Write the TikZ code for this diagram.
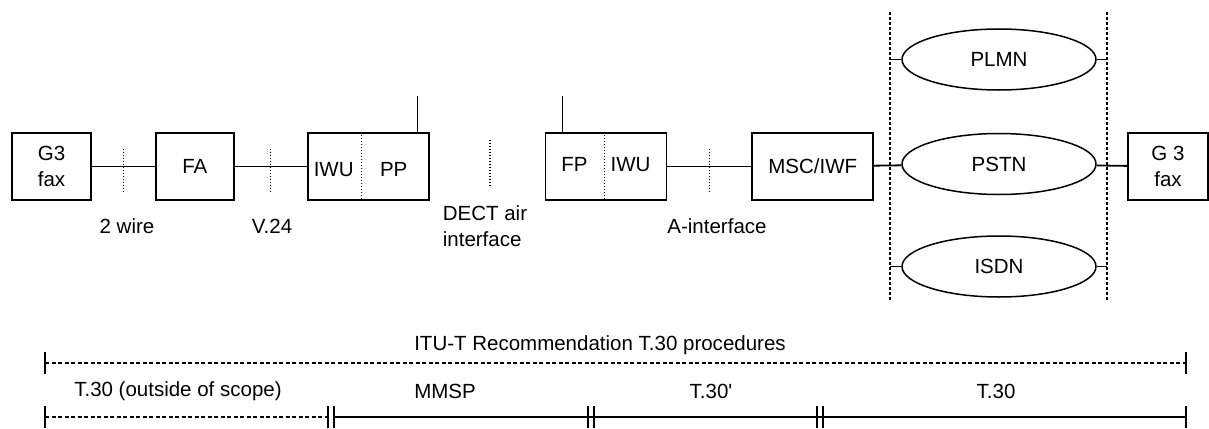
\documentclass[tikz,border=0pt]{standalone}
\usepackage{fontspec}
\setmainfont{Liberation Sans}
\usetikzlibrary{positioning,calc,shapes.geometric}

\begin{document}
\begin{tikzpicture}[x=1pt,y=-1pt,every node/.style={font=\fontsize{20.5}{26}\selectfont}]
    \tikzset{box/.style={draw,line width=1.8pt,minimum height=67pt,inner sep=0pt,align=center},
      net/.style={ellipse,draw,line width=1.5pt,minimum width=194pt,minimum height=61pt,inner sep=0pt},
      wire/.style={line width=1.8pt},
      sepline/.style={line width=1.3pt,dash pattern=on 1.3pt off 1.7pt},
      bound/.style={line width=1.3pt,dash pattern=on 3pt off 2pt},
      span/.style={line width=1.2pt,dash pattern=on 4pt off 2.5pt}}
    \useasboundingbox (0,0) rectangle (1209,428);
    % terminal side
    \node[box,minimum width=79pt] (fax1) at (51.5,166.5) {G3\\fax};
    \node[box,minimum width=78pt,right=63pt of fax1] (fa) {FA};
    \node[box,minimum width=121pt,right=72pt of fa] (pp) {};
    \node[box,minimum width=121pt,right=115pt of pp] (fp) {};
    \node[box,minimum width=121pt,right=84pt of fp] (msc) {MSC/IWF};
    \node at ($(pp.west)+(27,3)$) (ppiwu) {IWU};
    \node at ($(pp.west)+(87,3)$) (pptxt) {PP};
    \node at ($(fp.west)+(30,-2)$) (fptxt) {FP};
    \node at ($(fp.west)+(86,-2)$) (fpiwu) {IWU};
    \draw[sepline] ($(pp.north west)+(55,0)$) -- ($(pp.south west)+(55,0)$);
    \draw[sepline] ($(fp.north west)+(60,0)$) -- ($(fp.south west)+(60,0)$);
    \draw[wire] ($(pp.north east)+(-12,0)$) -- ++(0,-36);
    \draw[wire] ($(fp.north west)+(18,0)$) -- ++(0,-36);
    % networks
    \node[net] (pstn) at (999,164) {PSTN};
    \node[net,above=42pt of pstn] (plmn) {PLMN};
    \node[net,below=40pt of pstn] (isdn) {ISDN};
    \node[box,minimum width=80pt] (fax2) at (1168,166.5) {G 3\\fax};
    \coordinate (lt) at (890,12);
    \coordinate (lb) at (890,300);
    \coordinate (rt) at (1107,12);
    \coordinate (rb) at (1107,300);
    \draw[bound] (lt) -- (lb);
    \draw[bound] (rt) -- (rb);
    \foreach \a/\b in {fax1/fa,fa/pp,fp/msc,msc/pstn,pstn/fax2}{\draw[wire] (\a) -- (\b);}
    \foreach \n in {plmn,isdn}{\draw[wire] (\n.west) -- (\n.west -| lt); \draw[wire] (\n.east) -- (\n.east -| rt);}
    \foreach \a/\b in {fax1/fa,fa/pp,fp/msc}{\draw[sepline] ($(\a.east)!0.5!(\b.west)+(0,-18)$) -- ++(0,44);}
    \draw[sepline] ($(pp.east)!0.5!(fp.west)+(3,-27)$) -- ++(0,47);
    \node (wire2) at (127,226) {2 wire};
    \node (v24) at (272,226) {V.24};
    \node[align=left] (air) at (485,226) {DECT air\\interface};
    \node (aif) at (717,226) {A-interface};
    % procedures
    \node (itu) at (600,345) {ITU-T Recommendation T.30 procedures};
    \coordinate (u0) at (45,363);
    \coordinate (u1) at (1186,363);
    \draw[span] (u0) -- (u1);
    \foreach \c in {u0,u1}{\draw[wire] ($(\c)+(0,-11)$) -- ++(0,22);}
    \coordinate (s0) at (45,417);
    \coordinate (s1) at (331,417);
    \coordinate (s2) at (591,417);
    \coordinate (s3) at (820,417);
    \coordinate (s4) at (1186,417);
    \draw[span] (s0) -- ($(s1)+(-3,0)$);
    \draw[wire] ($(s1)+(3,0)$) -- (s4);
    \foreach \c in {s0,s4}{\draw[wire] ($(\c)+(0,-11)$) -- ++(0,22);}
    \foreach \c in {s1,s2,s3}{\draw[wire] ($(\c)+(-3,-11)$) -- ++(0,22); \draw[wire] ($(\c)+(3,-11)$) -- ++(0,22);}
    \node (t30a) at (178,391) {T.30 (outside of scope)};
    \node (mmsp) at (445,391) {MMSP};
    \node (t30b) at (711,391) {T.30\textquotesingle};
    \node (t30c) at (996,391) {T.30};
  \end{tikzpicture}
\end{document}
